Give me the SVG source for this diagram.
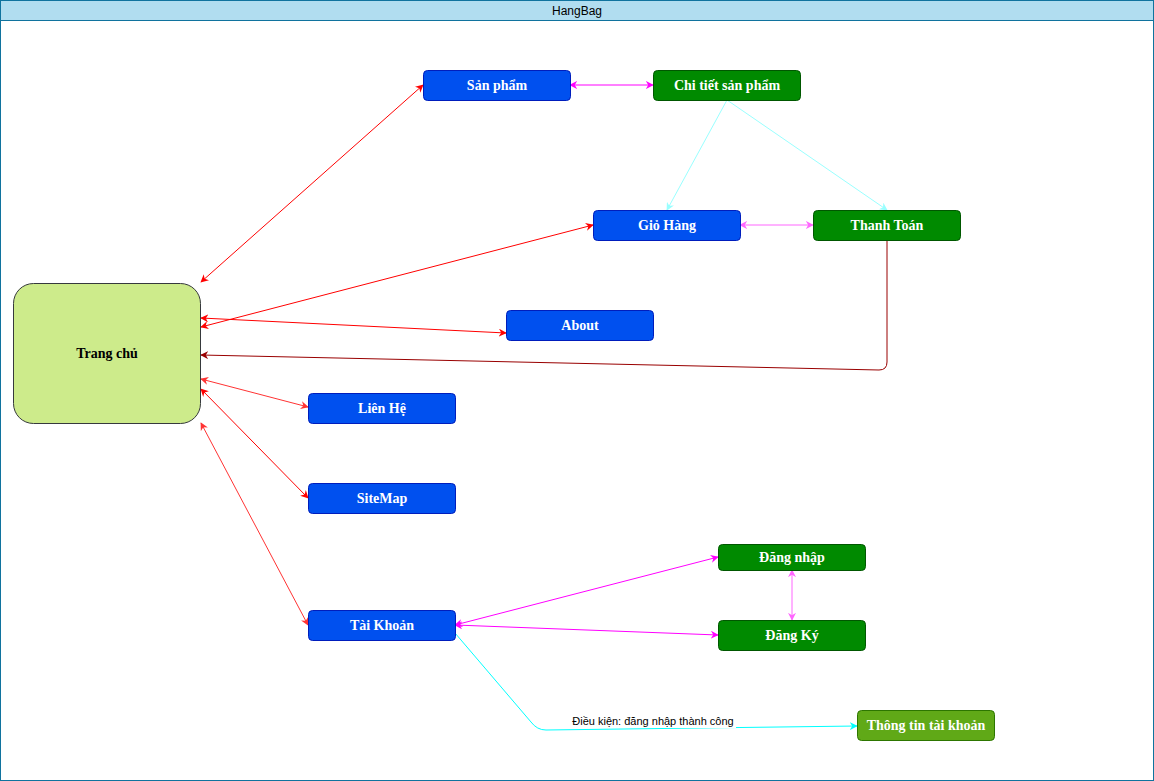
<svg xmlns="http://www.w3.org/2000/svg" width="1154" height="781" viewBox="0 0 1154 781">
<style>
.n{stroke-width:1}
.b{fill:#0050ef;stroke:#001DBC}
.g{fill:#008a00;stroke:#005700}
.t{font-family:"Liberation Serif",serif;font-weight:bold;font-size:14px;text-anchor:middle;dominant-baseline:central;fill:#ffffff}
.c{fill:none;stroke-width:1}
</style>
<defs>
<marker id="mr" viewBox="0 0 10 10" refX="9" refY="5" markerWidth="8" markerHeight="8" orient="auto-start-reverse" markerUnits="userSpaceOnUse"><path d="M0,0 L10,5 L0,10 L3,5 Z" fill="#FF0000"/></marker>
<marker id="mr2" viewBox="0 0 10 10" refX="9" refY="5" markerWidth="8" markerHeight="8" orient="auto-start-reverse" markerUnits="userSpaceOnUse"><path d="M0,0 L10,5 L0,10 L3,5 Z" fill="#FF3333"/></marker>
<marker id="md" viewBox="0 0 10 10" refX="9" refY="5" markerWidth="8" markerHeight="8" orient="auto-start-reverse" markerUnits="userSpaceOnUse"><path d="M0,0 L10,5 L0,10 L3,5 Z" fill="#990000"/></marker>
<marker id="mm" viewBox="0 0 10 10" refX="9" refY="5" markerWidth="8" markerHeight="8" orient="auto-start-reverse" markerUnits="userSpaceOnUse"><path d="M0,0 L10,5 L0,10 L3,5 Z" fill="#FF00FF"/></marker>
<marker id="mp" viewBox="0 0 10 10" refX="9" refY="5" markerWidth="8" markerHeight="8" orient="auto-start-reverse" markerUnits="userSpaceOnUse"><path d="M0,0 L10,5 L0,10 L3,5 Z" fill="#FF66FF"/></marker>
<marker id="ml" viewBox="0 0 10 10" refX="9" refY="5" markerWidth="8" markerHeight="8" orient="auto-start-reverse" markerUnits="userSpaceOnUse"><path d="M0,0 L10,5 L0,10 L3,5 Z" fill="#99FFFF"/></marker>
<marker id="mc" viewBox="0 0 10 10" refX="9" refY="5" markerWidth="8" markerHeight="8" orient="auto-start-reverse" markerUnits="userSpaceOnUse"><path d="M0,0 L10,5 L0,10 L3,5 Z" fill="#00FFFF"/></marker>
</defs>
<g id="container">
<rect x="0.5" y="0.5" width="1153" height="780" fill="#ffffff" stroke="#10739e"/>
<rect x="0.5" y="0.5" width="1153" height="20" fill="#b1ddf0" stroke="#10739e"/>
<text x="577" y="11" font-family="Liberation Sans, Arial, sans-serif" font-size="12" text-anchor="middle" dominant-baseline="central" fill="#000000">HangBag</text>
</g>
<g id="connectors">
<path class="c" stroke="#FF0000" d="M201,282 L423,85" marker-start="url(#mr)" marker-end="url(#mr)"/>
<path class="c" stroke="#FF00FF" d="M570,85 L653,85" marker-start="url(#mm)" marker-end="url(#mm)"/>
<path class="c" stroke="#99FFFF" d="M727,100 L667,210" marker-end="url(#ml)"/>
<path class="c" stroke="#99FFFF" d="M727,100 L887,210" marker-end="url(#ml)"/>
<path class="c" stroke="#FF66FF" d="M740,225 L813,225" marker-start="url(#mp)" marker-end="url(#mp)"/>
<path class="c" stroke="#FF0000" d="M201,327 L593,225" marker-start="url(#mr)" marker-end="url(#mr)"/>
<path class="c" stroke="#FF0000" d="M201,318 L506,333" marker-start="url(#mr)" marker-end="url(#mr)"/>
<path class="c" stroke="#990000" d="M887,240 L887,362 Q887,370 879,370 L201,355" marker-end="url(#md)"/>
<path class="c" stroke="#FF3333" d="M201,379 L308,407" marker-start="url(#mr2)" marker-end="url(#mr2)"/>
<path class="c" stroke="#FF0000" d="M201,389 L308,498" marker-start="url(#mr)" marker-end="url(#mr)"/>
<path class="c" stroke="#FF3333" d="M201,423 L308,625" marker-start="url(#mr2)" marker-end="url(#mr2)"/>
<path class="c" stroke="#FF00FF" d="M455,625 L718,557" marker-start="url(#mm)" marker-end="url(#mm)"/>
<path class="c" stroke="#FF00FF" d="M455,625 L718,635" marker-start="url(#mm)" marker-end="url(#mm)"/>
<path class="c" stroke="#FF66FF" d="M792,570 L792,620" marker-start="url(#mp)" marker-end="url(#mp)"/>
<path class="c" stroke="#00FFFF" d="M455,633 L531,722 Q537,730 546,730 L857,726" marker-end="url(#mc)"/>
<rect x="570" y="714" width="166" height="14" fill="#ffffff"/>
<text x="653" y="721" font-family="Liberation Sans, Arial, sans-serif" font-size="11" text-anchor="middle" dominant-baseline="central" fill="#000000">Điều kiện: đăng nhập thành công</text>
</g>
<g id="n-sanpham"><rect class="n b" x="423.5" y="70.5" width="147" height="30" rx="4"/><text class="t" x="497" y="85.5">Sản phẩm</text></g>
<g id="n-chitiet"><rect class="n g" x="653.5" y="70.5" width="147" height="30" rx="4"/><text class="t" x="727" y="85.5">Chi tiết sản phẩm</text></g>
<g id="n-giohang"><rect class="n b" x="593.5" y="210.5" width="147" height="30" rx="4"/><text class="t" x="667" y="225.5">Giỏ Hàng</text></g>
<g id="n-thanhtoan"><rect class="n g" x="813.5" y="210.5" width="147" height="30" rx="4"/><text class="t" x="887" y="225.5">Thanh Toán</text></g>
<g id="n-trangchu"><rect x="13.5" y="283.5" width="187" height="140" rx="20" fill="#cdeb8b" stroke="#36393d"/><text class="t" x="107" y="353.5" fill="#000000" style="fill:#000000">Trang chủ</text></g>
<g id="n-about"><rect class="n b" x="506.5" y="310.5" width="147" height="30" rx="4"/><text class="t" x="580" y="325.5">About</text></g>
<g id="n-lienhe"><rect class="n b" x="308.5" y="393.5" width="147" height="30" rx="4"/><text class="t" x="382" y="408.5">Liên Hệ</text></g>
<g id="n-sitemap"><rect class="n b" x="308.5" y="483.5" width="147" height="30" rx="4"/><text class="t" x="382" y="498.5">SiteMap</text></g>
<g id="n-dangnhap"><rect class="n g" x="718.5" y="544.5" width="147" height="26" rx="4"/><text class="t" x="792" y="557.5">Đăng nhập</text></g>
<g id="n-dangky"><rect class="n g" x="718.5" y="620.5" width="147" height="30" rx="4"/><text class="t" x="792" y="635.5">Đăng Ký</text></g>
<g id="n-taikhoan"><rect class="n b" x="308.5" y="610.5" width="147" height="30" rx="4"/><text class="t" x="382" y="625.5">Tài Khoản</text></g>
<g id="n-thongtin"><rect x="857.5" y="710.5" width="137" height="30" rx="4" fill="#60a917" stroke="#2D7600"/><text class="t" x="926" y="725.5">Thông tin tài khoản</text></g>
</svg>
